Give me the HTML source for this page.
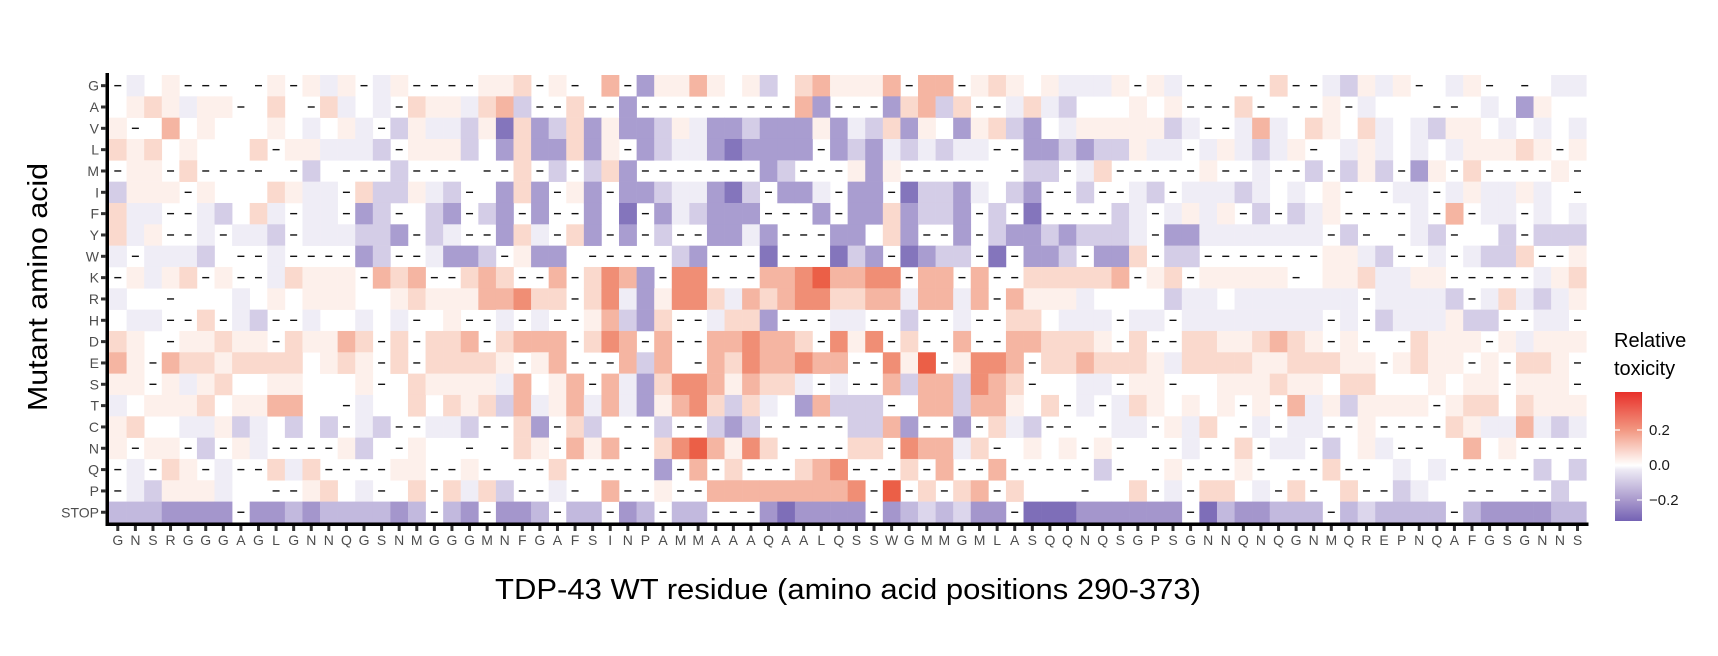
<!DOCTYPE html>
<html><head><meta charset="utf-8"><style>
html,body{margin:0;padding:0;background:#fff;}
svg{display:block;font-family:"Liberation Sans",Arial,sans-serif;}
</style></head><body>
<svg id="s" width="1718" height="656" viewBox="0 0 1718 656" xmlns="http://www.w3.org/2000/svg">
<defs>
<linearGradient id="cb" x1="0" y1="0" x2="0" y2="1">
<stop offset="0" stop-color="#E8302A"/>
<stop offset="0.29" stop-color="#F29680"/>
<stop offset="0.52" stop-color="#FDEEE9"/>
<stop offset="0.57" stop-color="#FFFFFF"/>
<stop offset="0.60" stop-color="#EEEBF5"/>
<stop offset="0.84" stop-color="#A898CC"/>
<stop offset="1" stop-color="#7462B4"/>
</linearGradient>
</defs>
<g id="cells"></g>
<rect x="105.5" y="73" width="3.5" height="452" fill="#000"/>
<rect x="105.5" y="522.5" width="1483" height="3.5" fill="#000"/>
<g id="ticks" fill="#333"></g>
<g id="ylab" font-size="14" fill="#4D4D4D" text-anchor="end"></g>
<g id="xlab" font-size="14" fill="#4D4D4D" text-anchor="middle"></g>
<text x="848" y="599" font-size="29" text-anchor="middle" textLength="706" lengthAdjust="spacingAndGlyphs" fill="#000">TDP-43 WT residue (amino acid positions 290-373)</text>
<text transform="translate(47,287) rotate(-90)" font-size="28" text-anchor="middle" textLength="248" lengthAdjust="spacingAndGlyphs" fill="#000">Mutant amino acid</text>
<text x="1614" y="347" font-size="20" fill="#000">Relative</text>
<text x="1614" y="375" font-size="20" fill="#000">toxicity</text>
<rect x="1615" y="392" width="27" height="129" fill="url(#cb)"/>
<g stroke="#fff" stroke-width="1.2">
<line x1="1615" y1="430" x2="1620" y2="430"/><line x1="1637" y1="430" x2="1642" y2="430"/>
<line x1="1615" y1="465" x2="1620" y2="465"/><line x1="1637" y1="465" x2="1642" y2="465"/>
<line x1="1615" y1="500" x2="1620" y2="500"/><line x1="1637" y1="500" x2="1642" y2="500"/>
</g>
<g font-size="15" fill="#1a1a1a">
<text x="1649" y="435">0.2</text>
<text x="1649" y="470">0.0</text>
<text x="1649" y="505">−0.2</text>
</g>
</svg>
<script>
var rows=[
["G","-a0p---0-p-pap-ap----ppq-p-0r-cpprp0pb0qrpppr-rr-pqp0paaap-pa--0--q--abpap-0ap-0-0aa"],
["A","0pqpapp-0q0-qa0a-qppaqrb--q--c---------rc---cqrbq--aqab000p0p---q-0--p-a000--0a0cp0"],
["V","p-0r0p000p0a0pa-bpaabpdqcbqcpccbpaccbcccpcabqcp0cpqbc0apppppba--ara0qp0qa0abpp0a0a0a"],
["L","qpq0p000q-ppaaab-pppb0cqccqcp-cbaacdcccc-cbcababaa--ccbcbbpaa-apabap-0apa0a0apppqp-p"],
["M","-pp-q----0-b0---b---0--q-b-bqc-------cb---pcp-----0-bb-aq-----p--a--b-bpb-cp-q----p-"],
["I","bppp-p000qpaa-qbbpab-0cqc-pc-ccbaacdb-cca-cc-dbbca0bc--b--ab-aaaba0a0p-0-aa-apaapa0-"],
["F","qaa--ab0qa-aa-cb-0bc-bc-c--c0d-cabccc---c-ccqcbbc-b-d----ba-apap-b-bap----a-r-aa-a0a"],
["Y","qap--a-aab-aaabbc-ba--cqa-qc-c-b--ccac---cc0qc--c-bccbcbbba-ccaaaaaaa-b-0-ab-00b-bbb"],
["W","a-aaab0--a----cb--accb-pcc0-----bc---d---dbc-dcbb-d-ccb-ccq-bb-------ppab--a-abbq--p"],
["K","-papq-p--aqppp-rqr--qrq--r-qsrc-ss---rrstrrss-rr-r--qqqqqr-pq-ppppp-0ppqaapp-----apq"],
["R","a00-000a0p0ppp00pqppprrsqq-qsacpssqarqrssqqrrarrar-rpppa0000baa0aaaaaaa-aaaab-aqabap"],
["H","0aa--q-ab--a00a0a-0p--a-a--prbcq--aqqc---aa--b--a--qq0aaa-aa-aaaaaaaa-a-baaapbb--aa-"],
["D","qp0-ppqpp-qpprq-q-qqr-qrrr-qsr-r--rrsrrq-sps-q--r--rrqqqp-q--qqppqrqp-p-0-qppp-pappp"],
["E","rp-rqqpqqqq0pqp-q-qqqqp-pr---rbr0-rqsrrsrr--spt-pssr-qqrqqqpaqqqqppqqqpp-pqpp-p-qqp-"],
["S","pp-papq00pp000p-0qppppar0pr-racqssrprqqa-a--rbrrbsrq-00aa-pp-00pppqpp0qq000p0pp-ppp-"],
["T","a0pppq0pprr00-a00q0qpqbrapraracprsqbqa0crbbb-0rrbrrp0q-a-aqp0p0p-p-rapbpppp-pqq0qppp"],
["C","pq00aapba0b0b-ab--aab--qc-qb0--b--bcb-----bbrc--c-qab--0-aa-paq0-a-aa--p----qpaaraba"],
["N","p-pp-b-pa----pb0-p00-0-qp-rpr--qstrpsq----qq-srraq-0p0p-p-0--a--q-aa-b0pa--00r0p----"],
["Q","-a-qp-a--qaq----pp--p-0--q-----c-r-q---qrs---q-r--r-----b-0-p---p-0--q--0a0a-----b0b-"],
["P","-abpppa00--pq0a-0q-qaqb--a-0r--p--rrrrrrrrs-t-q-qr-q000-00q-a-qq0a-q-0q--ba00--0--b0"],
["STOP","bbbcccc-ccbcbbbbcb-bc-ccb-bb-cb-bb---cdcccc-cbabacc-dddcccccc-dbccbbb-babbbb-bccccbb"]
];
var pal={"0":"#FFFFFF","-":"#FFFFFF","a":"#EFEDF6","b":"#D4CDE7","c":"#A99DD0","d":"#8475BC",
"p":"#FDF0EB","q":"#FAD9CD","r":"#F5B5A2","s":"#F08E75","t":"#EB5F47"};
var stopPal={"b":"#C2B9DE","c":"#A496CC","d":"#7E6EB8","a":"#DCD6EC"};
var x0=109,w=17.587,y0=75,h=21.33;
var xl="GNSRGGGAGLGNNQGSNMGGGMNFGAFSINPAMMAAAQAALQSSWGMMGMLASQQNQSGPSGNNQNQGNMQREPNQAFGSGNNS";
var c="",t="",yl="",xs="";
for(var r=0;r<rows.length;r++){
 var s=rows[r][1],isStop=rows[r][0]=="STOP";
 var y=y0+r*h;
 for(var k=0;k<84;k++){
  var ch=s.charAt(k)||"0";
  var col=(isStop&&stopPal[ch])?stopPal[ch]:(pal[ch]||"#fff");
  var x=x0+k*w;
  if(col!="#FFFFFF") c+='<rect x="'+x.toFixed(2)+'" y="'+y.toFixed(2)+'" width="'+(w+0.3).toFixed(2)+'" height="'+(h+0.3).toFixed(2)+'" fill="'+col+'"/>';
  if(ch=="-") c+='<rect x="'+(x+w/2-3.5).toFixed(2)+'" y="'+(y+h/2-0.7).toFixed(2)+'" width="7" height="1.4" fill="#111"/>';
 }
 var cy=y+h/2;
 t+='<rect x="101" y="'+(cy-1.5).toFixed(2)+'" width="5" height="3"/>';
 yl+='<text x="99" y="'+(cy+5).toFixed(2)+'">'+rows[r][0]+'</text>';
}
for(var k=0;k<84;k++){
 var cx=x0+k*w+w/2;
 t+='<rect x="'+(cx-1.5).toFixed(2)+'" y="526" width="3" height="5"/>';
 xs+='<text x="'+cx.toFixed(2)+'" y="545">'+xl.charAt(k)+'</text>';
}
document.getElementById("cells").innerHTML=c;
document.getElementById("ticks").innerHTML=t;
document.getElementById("ylab").innerHTML=yl;
document.getElementById("xlab").innerHTML=xs;
</script>
</body></html>
